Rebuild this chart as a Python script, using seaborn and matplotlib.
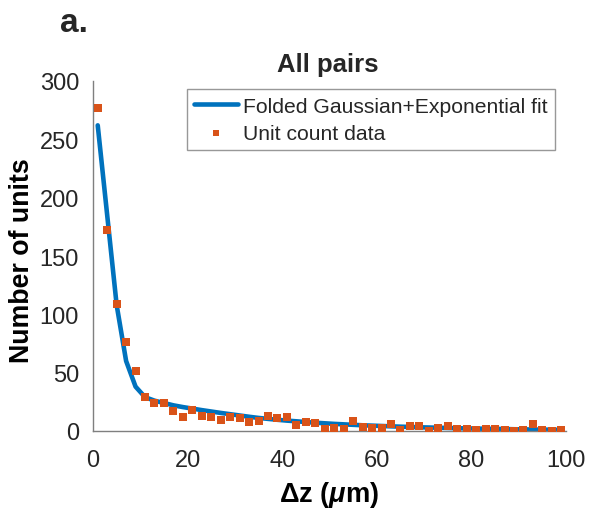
import numpy as np
import pandas as pd
import matplotlib
matplotlib.use("Agg")
import matplotlib.pyplot as plt
import seaborn as sns

# Data
dz = [1, 3, 5, 7, 9, 11, 13, 15, 17, 19, 21, 23, 25, 27, 29, 31, 33, 35, 37, 39,
      41, 43, 45, 47, 49, 51, 53, 55, 57, 59, 61, 63, 65, 67, 69, 71, 73, 75, 77, 79,
      81, 83, 85, 87, 89, 91, 93, 95, 97, 99]
unit_counts = [276.6, 172.3, 109.1, 76, 51.7, 28.9, 24, 24, 16.9, 11.7,
               18, 12.9, 11.7, 9.7, 11.7, 10.9, 8, 8.9, 13.1, 10.9,
               12.3, 4.9, 8, 6.9, 1.7, 2.9, 1.7, 8.9, 3.7, 2.9,
               2.9, 6, 0.9, 4, 4, 0, 2.9, 4, 1.7, 1.7,
               0.9, 1.7, 1.7, 0.9, 0, 0.9, 6, 0.9, 0, 0.9]
fit_values = [262, 185, 108, 60, 38, 29, 26, 24, 22, 20.5,
              19.2, 17.9, 16.7, 15.5, 14.4, 13.3, 12.2, 11.2, 10.4, 9.6,
              8.9, 8.3, 7.7, 7.1, 6.6, 6.1, 5.7, 5.3, 4.9, 4.6,
              4.3, 4.0, 3.7, 3.5, 3.2, 3.0, 2.8, 2.6, 2.4, 2.2,
              2.1, 1.9, 1.8, 1.7, 1.5, 1.4, 1.3, 1.2, 1.1, 1.0]
x_ticks = [0, 20, 40, 60, 80, 100]
y_ticks = [0, 50, 100, 150, 200, 250, 300]

df = pd.DataFrame({"dz": dz, "count": unit_counts, "fit": fit_values})

sns.set_style("white")
plt.rcParams['font.family'] = ['Liberation Sans', 'DejaVu Sans']
plt.rcParams['mathtext.fontset'] = 'custom'
plt.rcParams['mathtext.it'] = 'Liberation Sans:italic:bold'
plt.rcParams['mathtext.rm'] = 'Liberation Sans:bold'

fig = plt.figure(figsize=(5.89, 5.10), dpi=100)
ax = fig.add_axes([93/589, 1-432/510, 473/589, 350/510])

blue = "#0072BD"
orange = "#D95319"

sns.lineplot(data=df, x="dz", y="fit", ax=ax, color=blue, linewidth=3.3,
             label="Folded Gaussian+Exponential fit")
sns.scatterplot(data=df, x="dz", y="count", ax=ax, color=orange, marker="s",
                s=26, linewidth=0, label="Unit count data", zorder=3)

ax.set_xlim(0, 100)
ax.set_ylim(0, 300)
ax.set_xticks(x_ticks)
ax.set_yticks(y_ticks)

for s in ["top", "right"]:
    ax.spines[s].set_visible(False)
for s in ["left", "bottom"]:
    ax.spines[s].set_color("#7f7f7f")
    ax.spines[s].set_linewidth(1.0)

ax.tick_params(axis="both", which="major", direction="out", length=4, width=1,
               color="#7f7f7f", labelsize=17, labelcolor="#262626")
ax.tick_params(axis="y", pad=6)
ax.tick_params(axis="x", pad=9)

ax.set_xlabel(r"Δz ($\mu$m)", fontsize=19.6, fontweight="bold", color="black")
ax.set_ylabel("Number of units", fontsize=19.3, fontweight="bold", color="black")
ax.xaxis.set_label_coords(0.5, -0.136)
ax.yaxis.set_label_coords(-0.122, 0.491)

leg = ax.legend(loc="upper right", bbox_to_anchor=(0.977, 0.977), fontsize=15.2,
                frameon=True, fancybox=False, shadow=False, handlelength=2.05,
                borderpad=0.36, labelspacing=0.38, handletextpad=0.25,
                borderaxespad=0)
leg.get_frame().set_edgecolor("#7f7f7f")
leg.get_frame().set_linewidth(1.0)
leg.legend_handles[1].set_sizes([22])

fig.text(328/589, 1-72/510, "All pairs", ha="center", va="baseline",
         fontsize=18.5, fontweight="bold")
fig.text(60/589, 1-32/510, "a.", ha="left", va="baseline",
         fontsize=24, fontweight="bold")

fig.savefig("out.png", dpi=100)
